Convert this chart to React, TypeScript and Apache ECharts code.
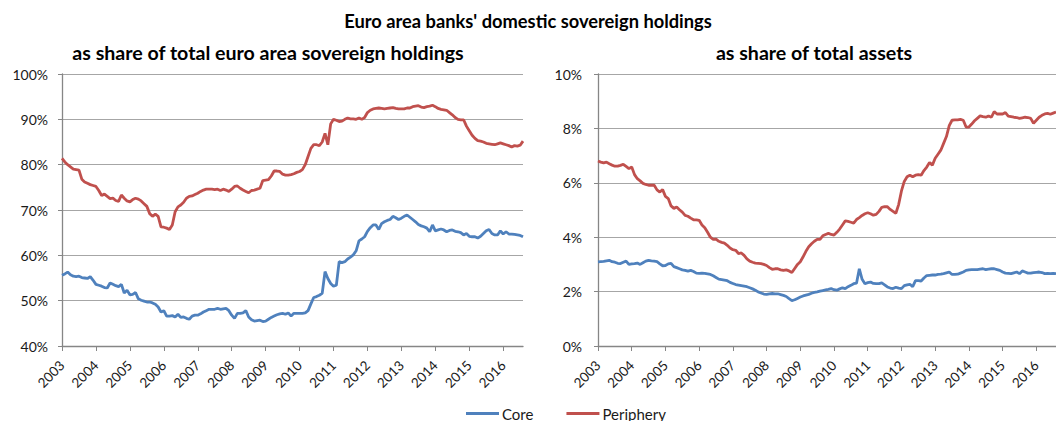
import React, { useEffect, useRef } from "react";
import * as echarts from "echarts";

// ---- categories: monthly, Jan 2003 .. Aug 2016 ----
const startYear = 2003;
const monthCount = 164;
const months: string[] = [];
for (let i = 0; i < monthCount; i++) {
  const y = startYear + Math.floor(i / 12);
  const m = (i % 12) + 1;
  months.push(`${y}-${m < 10 ? "0" + m : m}`);
}

// ---- left panel: share of total euro area sovereign holdings (%) ----
const leftCore: number[] = [
  55.6, 55.9, 56.3, 55.7, 55.4, 55.3, 55.4, 55.1, 55.0, 54.9, 55.3, 54.5,
  53.6, 53.4, 53.2, 52.9, 52.8, 53.9, 53.6, 53.3, 53.1, 53.6, 51.7, 52.3,
  51.3, 51.4, 51.8, 50.4, 50.1, 49.9, 49.7, 49.7, 49.5, 49.2, 48.6, 47.5,
  47.8, 46.6, 46.6, 46.7, 46.4, 47.0, 46.3, 46.4, 46.1, 45.9, 46.6, 46.8,
  46.8, 47.1, 47.5, 47.8, 48.1, 48.1, 48.1, 48.3, 48.1, 48.2, 48.3, 47.8,
  46.8, 46.1, 47.2, 47.2, 47.3, 47.8, 46.4, 45.8, 45.5, 45.6, 45.7, 45.4,
  45.5, 45.9, 46.3, 46.6, 46.9, 47.1, 47.2, 47.0, 47.3, 46.6, 47.2, 47.2,
  47.2, 47.2, 47.3, 47.8, 49.3, 50.7, 50.9, 51.2, 51.6, 56.4, 54.9, 53.8,
  53.2, 53.4, 58.6, 58.4, 58.6, 59.2, 59.6, 60.1, 61.0, 63.2, 63.6, 64.1,
  65.3, 66.1, 66.7, 66.7, 65.7, 67.0, 67.4, 67.7, 67.9, 68.6, 68.3, 67.9,
  68.2, 68.6, 68.9, 68.4, 67.9, 67.4, 66.8, 66.5, 66.3, 66.0, 65.2, 66.7,
  65.4, 65.6, 65.8, 65.6, 65.2, 65.5, 65.6, 65.3, 65.2, 65.0, 64.5, 64.8,
  64.2, 64.1, 64.1, 63.8, 64.2, 64.8, 65.4, 65.7, 64.8, 64.5, 64.5, 65.4,
  64.7, 65.2, 64.7, 64.7, 64.6, 64.5, 64.4, 64.1,
];
const leftPeriphery: number[] = [
  81.4, 80.6, 80.0, 79.5, 79.0, 78.9, 78.8, 76.8, 76.2, 75.9, 75.6, 75.4,
  75.2, 74.3, 73.2, 73.5, 73.0, 72.5, 72.6, 72.1, 71.9, 73.3, 72.6, 72.0,
  71.8, 72.3, 72.6, 72.4, 72.0, 71.4, 70.8, 69.2, 68.6, 69.1, 68.6, 66.3,
  66.2, 66.0, 65.7, 66.7, 69.6, 70.7, 71.1, 71.7, 72.6, 73.0, 73.1, 73.4,
  73.7, 74.1, 74.4, 74.6, 74.6, 74.6, 74.5, 74.6, 74.3, 74.6, 74.4, 74.1,
  74.6, 75.2, 75.3, 74.8, 74.4, 74.1, 73.8, 74.3, 74.4, 74.6, 74.8, 76.5,
  76.6, 76.7, 77.5, 78.6, 78.6, 78.5, 77.9, 77.7, 77.7, 77.8, 78.0, 78.3,
  78.5, 78.9, 80.0, 81.8, 83.6, 84.4, 84.4, 84.2, 85.0, 86.9, 84.4, 89.0,
  90.0, 89.8, 89.5, 89.6, 90.0, 90.3, 90.1, 90.1, 90.0, 90.3, 90.0, 90.4,
  91.5, 92.0, 92.3, 92.4, 92.5, 92.4, 92.3, 92.4, 92.5, 92.6, 92.4, 92.3,
  92.3, 92.3, 92.5, 92.5, 92.8, 92.9, 93.0, 92.7, 92.6, 92.8, 92.9, 93.1,
  92.8, 92.4, 92.2, 92.1, 92.0, 91.5, 91.0, 90.4, 90.0, 89.9, 89.9, 88.5,
  87.5, 86.5, 85.8, 85.3, 85.2, 85.0, 84.7, 84.6, 84.5, 84.4, 84.6, 84.8,
  84.6, 84.4, 84.2, 83.9, 84.2, 84.1, 84.3, 85.2,
];

// ---- right panel: share of total assets (%) ----
const rightCore: number[] = [
  3.09, 3.10, 3.11, 3.13, 3.15, 3.10, 3.08, 3.04, 3.03, 3.08, 3.12, 3.00,
  3.02, 3.03, 3.05, 3.00, 3.06, 3.12, 3.15, 3.13, 3.12, 3.10, 3.02, 2.95,
  2.96, 3.02, 3.04, 2.92, 2.88, 2.84, 2.80, 2.78, 2.75, 2.78, 2.74, 2.68,
  2.67, 2.68, 2.67, 2.65, 2.63, 2.58, 2.52, 2.46, 2.44, 2.42, 2.40, 2.34,
  2.30, 2.26, 2.24, 2.22, 2.20, 2.18, 2.14, 2.10, 2.05, 1.99, 1.95, 1.91,
  1.90, 1.92, 1.93, 1.92, 1.92, 1.89, 1.86, 1.82, 1.74, 1.67, 1.70, 1.75,
  1.80, 1.84, 1.87, 1.90, 1.94, 1.97, 1.99, 2.02, 2.04, 2.06, 2.08, 2.11,
  2.07, 2.05, 2.10, 2.14, 2.11, 2.18, 2.23, 2.29, 2.31, 2.84, 2.45, 2.29,
  2.33, 2.35, 2.30, 2.29, 2.29, 2.32, 2.25, 2.17, 2.13, 2.11, 2.16, 2.13,
  2.11, 2.22, 2.25, 2.27, 2.18, 2.40, 2.40, 2.39, 2.50, 2.59, 2.60, 2.61,
  2.61, 2.63, 2.64, 2.66, 2.69, 2.72, 2.63, 2.63, 2.64, 2.68, 2.72, 2.78,
  2.80, 2.81, 2.81, 2.81, 2.83, 2.84, 2.81, 2.83, 2.84, 2.84, 2.81, 2.78,
  2.72, 2.68, 2.67, 2.66, 2.69, 2.72, 2.66, 2.76, 2.72, 2.68, 2.68, 2.70,
  2.71, 2.72, 2.70, 2.66, 2.67, 2.66, 2.67, 2.66,
];
const rightPeriphery: number[] = [
  6.80, 6.76, 6.73, 6.76, 6.70, 6.65, 6.61, 6.61, 6.64, 6.68, 6.60, 6.52,
  6.58, 6.30, 6.15, 6.07, 5.98, 5.94, 5.91, 5.91, 5.91, 5.74, 5.66, 5.75,
  5.50, 5.42, 5.15, 5.06, 5.11, 5.01, 4.92, 4.80, 4.77, 4.70, 4.64, 4.64,
  4.62, 4.45, 4.35, 4.18, 4.00, 3.92, 3.93, 3.85, 3.81, 3.78, 3.70, 3.60,
  3.54, 3.52, 3.40, 3.42, 3.33, 3.20, 3.12, 3.08, 3.05, 3.04, 3.03, 3.00,
  2.96, 2.88, 2.82, 2.84, 2.84, 2.80, 2.78, 2.80, 2.76, 2.70, 2.85, 3.00,
  3.10, 3.28, 3.48, 3.65, 3.76, 3.85, 3.92, 3.92, 4.05, 4.10, 4.14, 4.10,
  4.08, 4.18, 4.30, 4.45, 4.60, 4.58, 4.55, 4.52, 4.65, 4.72, 4.80, 4.86,
  4.90, 4.86, 4.81, 4.84, 4.95, 5.10, 5.12, 5.12, 5.02, 4.95, 4.88, 5.20,
  5.70, 6.05, 6.22, 6.28, 6.22, 6.28, 6.30, 6.28, 6.45, 6.58, 6.75, 6.65,
  6.90, 7.05, 7.20, 7.45, 7.70, 8.10, 8.30, 8.31, 8.31, 8.33, 8.30, 8.05,
  8.05, 8.16, 8.28, 8.37, 8.46, 8.43, 8.41, 8.46, 8.41, 8.62, 8.53, 8.53,
  8.53, 8.58, 8.45, 8.43, 8.41, 8.40, 8.37, 8.39, 8.41, 8.40, 8.37, 8.19,
  8.30, 8.41, 8.48, 8.53, 8.55, 8.52, 8.56, 8.60,
];

const seriesNames = ["Core", "Periphery"];
const mainTitle = "Euro area banks' domestic sovereign holdings";
const leftTitle = "as share of total euro area sovereign holdings";
const rightTitle = "as share of total assets";

const FONT = "Lato";
const BLUE = "#4F81BD";
const RED = "#C0504D";
const AXIS = "#868686";
const GRID = "#a6a6a6";
const TEXT = "#1a1a1a";

const isYearStart = (i: number) => i % 12 === 0;

function xAxis(gridIndex: number) {
  return {
    type: "category",
    gridIndex,
    data: months,
    boundaryGap: false,
    axisLine: { lineStyle: { color: AXIS, width: 1.3 } },
    axisTick: { show: true, length: 5, interval: isYearStart, lineStyle: { color: AXIS, width: 1 } },
    axisLabel: {
      interval: isYearStart,
      rotate: 45,
      formatter: (v: string) => v.slice(0, 4),
      fontFamily: FONT,
      fontSize: 13.5,
      color: TEXT,
      margin: 17,
    },
    splitLine: { show: false },
  };
}

function yAxis(gridIndex: number, min: number, max: number, interval: number, margin: number) {
  return {
    type: "value",
    gridIndex,
    min,
    max,
    interval,
    axisLine: { show: true, lineStyle: { color: AXIS, width: 1.3 } },
    axisTick: { show: true, length: 4, lineStyle: { color: AXIS, width: 1 } },
    axisLabel: { formatter: "{value}%", fontFamily: FONT, fontSize: 14, color: TEXT, margin },
    splitLine: { show: true, lineStyle: { color: GRID, width: 1 } },
  };
}

function line(name: string, data: number[], color: string, idx: number) {
  return {
    name,
    type: "line",
    xAxisIndex: idx,
    yAxisIndex: idx,
    data,
    symbol: "none",
    showSymbol: false,
    lineStyle: { color, width: 2.8 },
    itemStyle: { color },
  };
}

export default function App() {
  const ref = useRef<HTMLDivElement>(null);
  useEffect(() => {
    if (!ref.current) return;
    const chart = echarts.init(ref.current, null, { renderer: "svg" });
    chart.setOption({
      animation: false,
      backgroundColor: "#ffffff",
      grid: [
        { left: 62, top: 74, width: 461, height: 272 },
        { left: 598, top: 74, width: 469, height: 272 },
      ],
      xAxis: [xAxis(0), xAxis(1)],
      yAxis: [yAxis(0, 40, 100, 10, 14), yAxis(1, 0, 10, 2, 16)],
      legend: {
        data: seriesNames,
        left: 466,
        top: 406,
        padding: 0,
        icon: "rect",
        itemWidth: 33,
        itemHeight: 3,
        itemGap: 33,
        textStyle: { fontFamily: FONT, fontSize: 15, color: TEXT, padding: [0, 0, 0, -2] },
      },
      graphic: [
        { type: "text", x: 528, y: 21, style: { text: mainTitle, fill: "#000", font: `bold 18.3px ${FONT}`, align: "center", verticalAlign: "middle" } },
        { type: "text", x: 268, y: 52, style: { text: leftTitle, fill: "#000", font: `bold 19.6px ${FONT}`, align: "center", verticalAlign: "middle" } },
        { type: "text", x: 814, y: 52, style: { text: rightTitle, fill: "#000", font: `bold 19.6px ${FONT}`, align: "center", verticalAlign: "middle" } },
      ],
      series: [
        line(seriesNames[0], leftCore, BLUE, 0),
        line(seriesNames[1], leftPeriphery, RED, 0),
        line(seriesNames[0], rightCore, BLUE, 1),
        line(seriesNames[1], rightPeriphery, RED, 1),
      ],
    });
    return () => chart.dispose();
  }, []);
  return (
    <div
      ref={ref}
      style={{ position: "absolute", left: 0, top: 0, width: 1056, height: 421, overflow: "hidden" }}
    />
  );
}
